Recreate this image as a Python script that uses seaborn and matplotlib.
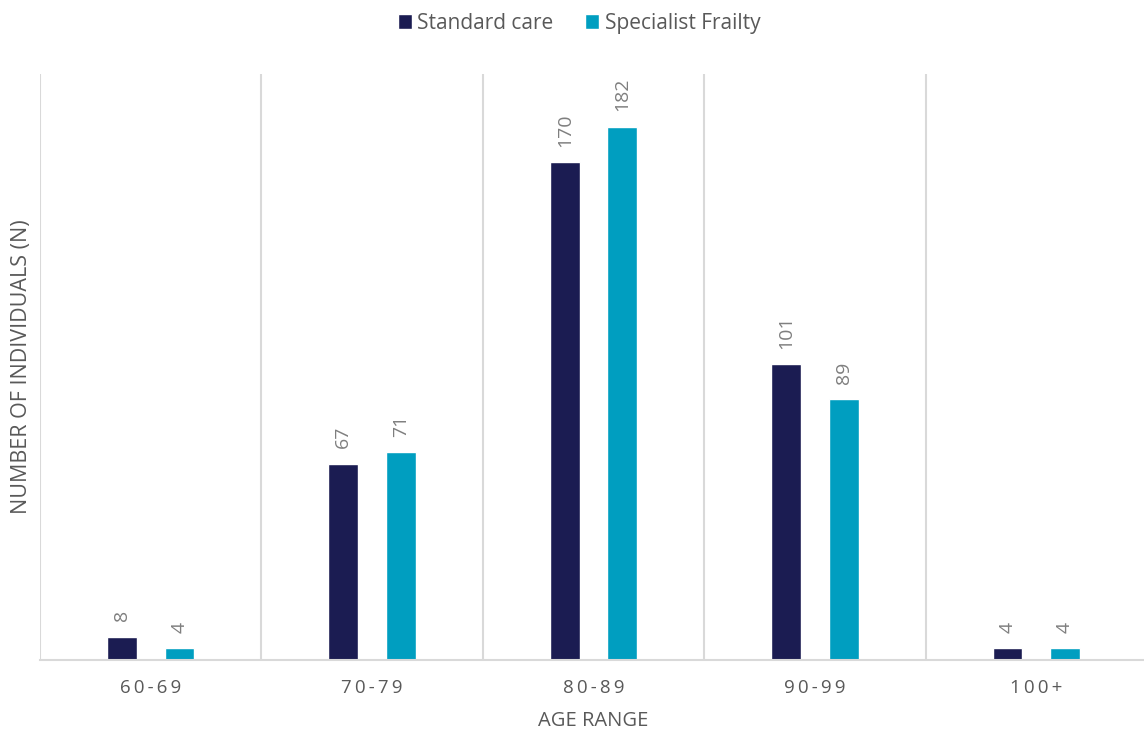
import matplotlib
matplotlib.use("Agg")
import matplotlib.pyplot as plt
import seaborn as sns
import pandas as pd

# Age bands and counts per care pathway
age_ranges = ["60-69", "70-79", "80-89", "90-99", "100+"]
standard_care = [8, 67, 170, 101, 4]
specialist_frailty = [4, 71, 182, 89, 4]
series_names = ["Standard care", "Specialist Frailty"]

df = pd.DataFrame({
    "age": age_ranges * 2,
    "n": standard_care + specialist_frailty,
    "group": [series_names[0]] * len(age_ranges) + [series_names[1]] * len(age_ranges),
})

sns.set_theme(style="white")
plt.rcParams["font.family"] = ["Open Sans", "DejaVu Sans"]

navy = "#1B1C52"
teal = "#009EC0"
text_grey = "#595959"
label_grey = "#7F7F7F"
grid_grey = "#D9D9D9"

fig = plt.figure(figsize=(11.44, 7.35), dpi=100)
ax = fig.add_axes([40 / 1144, 1 - 660 / 735, 1107 / 1144, (660 - 74) / 735])

sns.barplot(data=df, x="age", y="n", hue="group", order=age_ranges,
            hue_order=series_names, palette=[navy, teal],
            width=0.52, gap=0.48, saturation=1, errorbar=None, ax=ax)

ax.set_xlim(-0.5, len(age_ranges) - 0.5)
ax.set_ylim(0, 200)
ax.set_yticks([])

# Vertical separators between age bands
for b in range(len(age_ranges)):
    ax.axvline(b - 0.5, color=grid_grey, lw=1.5, zorder=0)
for s in ["top", "right", "left"]:
    ax.spines[s].set_visible(False)
ax.spines["bottom"].set_color(grid_grey)
ax.spines["bottom"].set_linewidth(1.5)

# Spaced-out category labels
ax.set_xticks(range(len(age_ranges)))
ax.set_xticklabels(["\u2009".join(a) for a in age_ranges])
ax.tick_params(axis="x", length=0, pad=14, labelsize=13.5, labelcolor=text_grey)
ax.set_xlabel("AGE RANGE", fontsize=14.5, color=text_grey, labelpad=10)
ax.set_ylabel("NUMBER OF INDIVIDUALS (N)", fontsize=15.5, color=text_grey, labelpad=6)

# Rotated value labels above each bar
for container in ax.containers:
    for bar in container:
        h = bar.get_height()
        ax.annotate(f"{h:.0f}", (bar.get_x() + bar.get_width() / 2, h),
                    xytext=(0, 11), textcoords="offset points",
                    rotation=90, ha="center", va="bottom",
                    fontsize=14, color=label_grey)

handles, labels = ax.get_legend_handles_labels()
ax.legend(handles, labels, loc="upper center", ncol=2, frameon=False,
          fontsize=15, labelcolor=text_grey, handlelength=0.7, handleheight=0.7,
          handletextpad=0.25, columnspacing=1.5)
ax.get_legend().set_bbox_to_anchor((0.506, 1.008), transform=fig.transFigure)

fig.savefig("out.png", dpi=100)
